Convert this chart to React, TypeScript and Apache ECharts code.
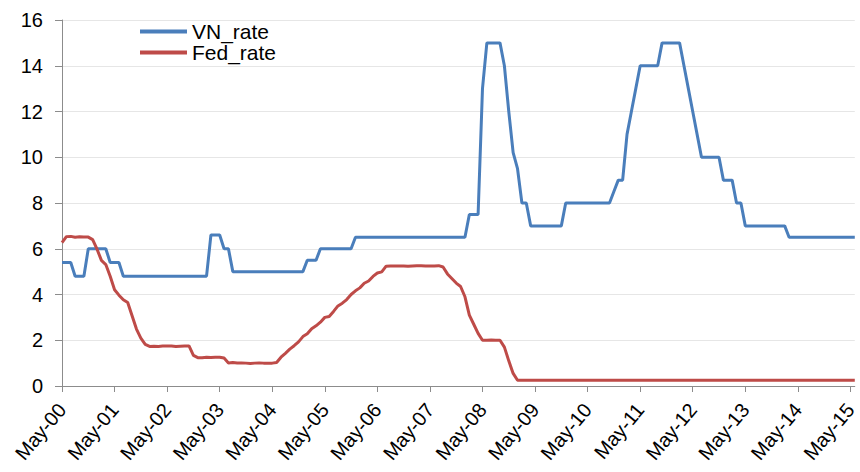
import React, { useEffect, useRef } from "react";
import * as echarts from "echarts";

// Monthly observations, May-00 .. Jun-15
const monthNames = ["May", "Jun", "Jul", "Aug", "Sep", "Oct", "Nov", "Dec", "Jan", "Feb", "Mar", "Apr"];
const tickLabels = ["May-00", "May-01", "May-02", "May-03", "May-04", "May-05", "May-06", "May-07", "May-08", "May-09", "May-10", "May-11", "May-12", "May-13", "May-14", "May-15"];

const vnRate = [
  5.4, 5.4, 5.4, 4.8, 4.8, 4.8, 6.0, 6.0, 6.0, 6.0, 6.0, 5.4,
  5.4, 5.4, 4.8, 4.8, 4.8, 4.8, 4.8, 4.8, 4.8, 4.8, 4.8, 4.8,
  4.8, 4.8, 4.8, 4.8, 4.8, 4.8, 4.8, 4.8, 4.8, 4.8, 6.6, 6.6,
  6.6, 6.0, 6.0, 5.0, 5.0, 5.0, 5.0, 5.0, 5.0, 5.0, 5.0, 5.0,
  5.0, 5.0, 5.0, 5.0, 5.0, 5.0, 5.0, 5.0, 5.5, 5.5, 5.5, 6.0,
  6.0, 6.0, 6.0, 6.0, 6.0, 6.0, 6.0, 6.5, 6.5, 6.5, 6.5, 6.5,
  6.5, 6.5, 6.5, 6.5, 6.5, 6.5, 6.5, 6.5, 6.5, 6.5, 6.5, 6.5,
  6.5, 6.5, 6.5, 6.5, 6.5, 6.5, 6.5, 6.5, 6.5, 7.5, 7.5, 7.5,
  13.0, 15.0, 15.0, 15.0, 15.0, 14.0, 12.0, 10.2, 9.5, 8.0, 8.0, 7.0,
  7.0, 7.0, 7.0, 7.0, 7.0, 7.0, 7.0, 8.0, 8.0, 8.0, 8.0, 8.0,
  8.0, 8.0, 8.0, 8.0, 8.0, 8.0, 8.5, 9.0, 9.0, 11.0, 12.0, 13.0,
  14.0, 14.0, 14.0, 14.0, 14.0, 15.0, 15.0, 15.0, 15.0, 15.0, 14.0, 13.0,
  12.0, 11.0, 10.0, 10.0, 10.0, 10.0, 10.0, 9.0, 9.0, 9.0, 8.0, 8.0,
  7.0, 7.0, 7.0, 7.0, 7.0, 7.0, 7.0, 7.0, 7.0, 7.0, 6.5, 6.5,
  6.5, 6.5, 6.5, 6.5, 6.5, 6.5, 6.5, 6.5, 6.5, 6.5, 6.5, 6.5,
  6.5, 6.5,
];

const fedRate = [
  6.27, 6.53, 6.54, 6.50, 6.52, 6.51, 6.51, 6.40, 5.98, 5.49, 5.31, 4.80,
  4.21, 3.97, 3.77, 3.65, 3.07, 2.49, 2.09, 1.82, 1.73, 1.74, 1.73, 1.75,
  1.75, 1.75, 1.73, 1.74, 1.75, 1.75, 1.34, 1.24, 1.24, 1.26, 1.25, 1.26,
  1.26, 1.22, 1.01, 1.03, 1.01, 1.01, 1.00, 0.98, 1.00, 1.01, 1.00, 1.00,
  1.00, 1.03, 1.26, 1.43, 1.61, 1.76, 1.93, 2.16, 2.28, 2.50, 2.63, 2.79,
  3.00, 3.04, 3.26, 3.50, 3.62, 3.78, 4.00, 4.16, 4.29, 4.49, 4.59, 4.79,
  4.94, 4.99, 5.24, 5.25, 5.25, 5.25, 5.25, 5.24, 5.25, 5.26, 5.26, 5.25,
  5.25, 5.25, 5.26, 5.20, 4.90, 4.70, 4.50, 4.35, 3.90, 3.10, 2.70, 2.30,
  2.00, 2.00, 2.01, 2.00, 2.00, 1.70, 1.10, 0.55, 0.25, 0.25, 0.25, 0.25,
  0.25, 0.25, 0.25, 0.25, 0.25, 0.25, 0.25, 0.25, 0.25, 0.25, 0.25, 0.25,
  0.25, 0.25, 0.25, 0.25, 0.25, 0.25, 0.25, 0.25, 0.25, 0.25, 0.25, 0.25,
  0.25, 0.25, 0.25, 0.25, 0.25, 0.25, 0.25, 0.25, 0.25, 0.25, 0.25, 0.25,
  0.25, 0.25, 0.25, 0.25, 0.25, 0.25, 0.25, 0.25, 0.25, 0.25, 0.25, 0.25,
  0.25, 0.25, 0.25, 0.25, 0.25, 0.25, 0.25, 0.25, 0.25, 0.25, 0.25, 0.25,
  0.25, 0.25, 0.25, 0.25, 0.25, 0.25, 0.25, 0.25, 0.25, 0.25, 0.25, 0.25,
  0.25, 0.25,
];

const categories: string[] = vnRate.map((_, i) => {
  const yearIdx = Math.floor(i / 12);
  const m = monthNames[i % 12];
  const yy = (i % 12 >= 8 ? yearIdx + 1 : yearIdx).toString().padStart(2, "0");
  return i % 12 === 0 ? tickLabels[yearIdx] ?? `${m}-${yy}` : `${m}-${yy}`;
});

const FONT = "Liberation Sans, Arial, sans-serif";

export default function App() {
  const ref = useRef<HTMLDivElement>(null);
  useEffect(() => {
    if (!ref.current) return;
    const chart = echarts.init(ref.current, undefined, { renderer: "svg" });
    chart.setOption({
      animation: false,
      backgroundColor: "#ffffff",
      grid: { left: 62, right: 3, top: 20, bottom: 86, containLabel: false },
      legend: {
        orient: "vertical",
        left: 140,
        top: 21,
        padding: 0,
        itemWidth: 47,
        itemHeight: 4,
        itemGap: 0,
        icon: "rect",
        textStyle: { fontFamily: FONT, fontSize: 21, color: "#000", lineHeight: 21 },
        data: ["VN_rate", "Fed_rate"],
      },
      xAxis: {
        type: "category",
        data: categories,
        boundaryGap: false,
        axisLine: { lineStyle: { color: "#8c8c8c", width: 1 } },
        axisTick: { show: true, interval: 11, length: 6, lineStyle: { color: "#8c8c8c" } },
        axisLabel: {
          interval: 11,
          rotate: 50,
          margin: 20,
          fontFamily: FONT,
          fontSize: 20,
          color: "#000",
        },
        splitLine: { show: false },
      },
      yAxis: {
        type: "value",
        min: 0,
        max: 16,
        interval: 2,
        axisLine: { show: true, lineStyle: { color: "#8c8c8c", width: 1 } },
        axisTick: { show: true, length: 7, lineStyle: { color: "#8c8c8c" } },
        axisLabel: { margin: 19, fontFamily: FONT, fontSize: 20, color: "#000" },
        splitLine: { show: true, lineStyle: { color: "#e6e6e6", width: 1 } },
      },
      series: [
        {
          name: "VN_rate",
          type: "line",
          data: vnRate,
          showSymbol: false,
          symbol: "none",
          lineStyle: { color: "#4A7EBB", width: 3 },
          itemStyle: { color: "#4A7EBB" },
        },
        {
          name: "Fed_rate",
          type: "line",
          data: fedRate,
          showSymbol: false,
          symbol: "none",
          lineStyle: { color: "#BE4B48", width: 3 },
          itemStyle: { color: "#BE4B48" },
        },
      ],
    });
    return () => chart.dispose();
  }, []);
  return <div ref={ref} style={{ width: 860, height: 472, position: "fixed", left: 0, top: 0 }} />;
}
